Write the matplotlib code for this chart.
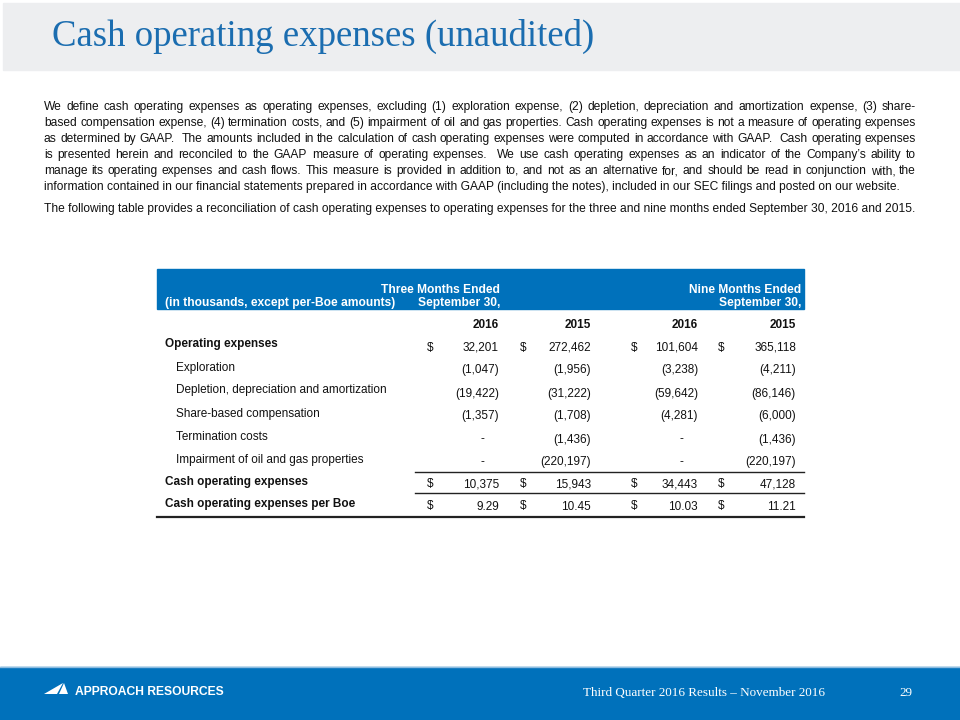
import matplotlib
matplotlib.use("Agg")
import matplotlib.pyplot as plt
from matplotlib import font_manager
from matplotlib.patches import Rectangle, Polygon

# ---------------- data ----------------
title = "Cash operating expenses (unaudited)"
para1_lines = [
    "We define cash operating expenses as operating expenses, excluding (1) exploration expense, (2) depletion, depreciation and amortization expense, (3) share-",
    "based compensation expense, (4) termination costs, and (5) impairment of oil and gas properties. Cash operating expenses is not a measure of operating expenses",
    "as determined by GAAP.  The amounts included in the calculation of cash operating expenses were computed in accordance with GAAP.  Cash operating expenses",
    "is presented herein and reconciled to the GAAP measure of operating expenses.  We use cash operating expenses as an indicator of the Company\u2019s ability to",
    "manage its operating expenses and cash flows. This measure is provided in addition to, and not as an alternative for, and should be read in conjunction with, the",
    "information contained in our financial statements prepared in accordance with GAAP (including the notes), included in our SEC filings and posted on our website.",
]
para2 = ("The following table provides a reconciliation of cash operating expenses to operating expenses "
         "for the three and nine months ended September 30, 2016 and 2015.")

header_label = "(in thousands, except per-Boe amounts)"
group_lines = [["Three Months Ended", "September 30,"], ["Nine Months Ended", "September 30,"]]
col_years = ["2016", "2015", "2016", "2015"]

row_labels = ["Operating expenses", "Exploration", "Depletion, depreciation and amortization",
              "Share-based compensation", "Termination costs", "Impairment of oil and gas properties",
              "Cash operating expenses", "Cash operating expenses per Boe"]
row_bold = [True, False, False, False, False, False, True, True]
three_2016 = [32201, -1047, -19422, -1357, 0, 0, 10375, 9.29]
three_2015 = [272462, -1956, -31222, -1708, -1436, -220197, 15943, 10.45]
nine_2016 = [101604, -3238, -59642, -4281, 0, 0, 34443, 10.03]
nine_2015 = [365118, -4211, -86146, -6000, -1436, -220197, 47128, 11.21]
dollar_rows = [0, 6, 7]
per_boe_row = 7

footer_left = "APPROACH RESOURCES"
footer_mid = "Third Quarter 2016 Results \u2013 November 2016"
page_no = "29"

# ---------------- styling ----------------
BLUE = "#0071BB"
TITLE_BLUE = "#1B6DB0"
TEXT = "#111111"

names = {f.name for f in font_manager.fontManager.ttflist}
SANS = "Liberation Sans" if "Liberation Sans" in names else "DejaVu Sans"
SERIF = "Liberation Serif" if "Liberation Serif" in names else "DejaVu Serif"
NARROW = "Liberation Sans Narrow" if "Liberation Sans Narrow" in names else SANS

fig = plt.figure(figsize=(9.6, 7.2), dpi=100)
ax = fig.add_axes([0, 0, 1, 1])
ax.set_xlim(0, 960)
ax.set_ylim(720, 0)
ax.axis("off")
renderer = fig.canvas.get_renderer()


def width_of(text, **kw):
    t = ax.text(0, 0, text, **kw)
    w = t.get_window_extent(renderer).width
    t.remove()
    return w


def fit(text, target, **kw):
    return 10.0 * target / width_of(text, fontsize=10.0, **kw)


# ---------------- title band ----------------
ax.add_patch(Rectangle((3, 3), 957, 67, color="#EDEEF0", zorder=0))
tfs = fit(title, 543, family=SERIF)
ax.text(52, 46, title, fontsize=tfs, family=SERIF, color=TITLE_BLUE, va="baseline", ha="left")

# ---------------- paragraphs ----------------
pfs = fit(para1_lines[-1], 859, family=SANS)
x0, x1 = 44, 916
for i, line in enumerate(para1_lines):
    yb = 110 + 16 * i
    if i == len(para1_lines) - 1:
        ax.text(x0, yb, line, fontsize=pfs, family=SANS, color=TEXT, va="baseline")
        continue
    tokens = line.split(" ")
    widths = [width_of(tk, fontsize=pfs, family=SANS) if tk else 0.0 for tk in tokens]
    gap = (x1 - x0 - sum(widths)) / (len(tokens) - 1)
    x = x0
    for tk, w in zip(tokens, widths):
        if tk:
            ax.text(x, yb, tk, fontsize=pfs, family=SANS, color=TEXT, va="baseline")
        x += w + gap
ax.text(x0, 212, para2, fontsize=pfs, family=SANS, color=TEXT, va="baseline")

# ---------------- table ----------------
tbl_fs = fit("(19,422)", 44, family=NARROW)
hdr_fs = fit(header_label, 230, family=NARROW, weight="bold")
lbl_fs = fit("Depletion, depreciation and amortization", 216, family=NARROW)

ax.add_patch(Rectangle((157, 269), 647, 40, color=BLUE, zorder=0))
ax.text(165, 306, header_label, fontsize=hdr_fs, family=NARROW, weight="bold", color="white", va="baseline")
group_right = [500, 801]
for g, lines in enumerate(group_lines):
    for j, ln in enumerate(lines):
        ax.text(group_right[g], 293 + 13 * j, ln, fontsize=hdr_fs, family=NARROW, weight="bold",
                color="white", ha="right", va="baseline")

col_right = [499, 591, 698, 796]
col_dollar = [427, 520, 631, 718]
for c, yr in enumerate(col_years):
    ax.text(col_right[c], 327.5, yr, fontsize=tbl_fs, family=NARROW, weight="bold",
            color=TEXT, ha="right", va="baseline")

row_y = [346, 369, 392, 415, 438, 461, 483, 505]
columns = [three_2016, three_2015, nine_2016, nine_2015]


def fmt(v, r):
    if r == per_boe_row:
        return f"{v:.2f}"
    if v == 0:
        return "-"
    if v < 0:
        return f"({-v:,.0f})"
    return f"{v:,.0f}"


for r, lab in enumerate(row_labels):
    y = row_y[r]
    lx = 165 if row_bold[r] else 176
    ax.text(lx, y + 1.5, lab, fontsize=tbl_fs if not row_bold[r] else tbl_fs,
            family=NARROW, weight="bold" if row_bold[r] else "normal", color=TEXT, va="baseline")
    for c, col in enumerate(columns):
        v = col[r]
        s = fmt(v, r)
        xr = col_right[c] - (15 if s == "-" else 0)
        ax.text(xr, y + 4.5, s, fontsize=tbl_fs, family=NARROW, color=TEXT, ha="right", va="baseline")
        if r in dollar_rows:
            ax.text(col_dollar[c], y + 4.5, "$", fontsize=tbl_fs, family=NARROW, color=TEXT,
                    ha="left", va="baseline")

ax.plot([415, 804], [472, 472], color="#222222", lw=1.0)
ax.plot([415, 804], [493, 493], color="#222222", lw=1.0)
ax.plot([157, 804], [517, 517], color="#222222", lw=1.6)

# ---------------- footer ----------------
ax.add_patch(Rectangle((0, 667), 960, 53, color=BLUE, zorder=0))
ax.plot([0, 960], [666.5, 666.5], color="#8DBCE0", lw=1.0)
ax.add_patch(Polygon([(44, 694), (57, 694), (63, 683)], closed=True, color="white", lw=0))
ax.add_patch(Polygon([(59, 694), (68, 694), (64, 683)], closed=True, color="white", lw=0))
ffs = fit(footer_left, 149, family=SANS, weight="bold")
ax.text(75, 692, footer_left, fontsize=ffs, family=SANS, weight="bold", color="white", va="center")
mfs = fit(footer_mid, 243, family=SERIF)
ax.text(583, 696, footer_mid, fontsize=mfs, family=SERIF, color="white", va="baseline")
ax.text(912, 696, page_no, fontsize=mfs, family=SERIF, color="white", ha="right", va="baseline")

fig.savefig("out.png", dpi=100)
